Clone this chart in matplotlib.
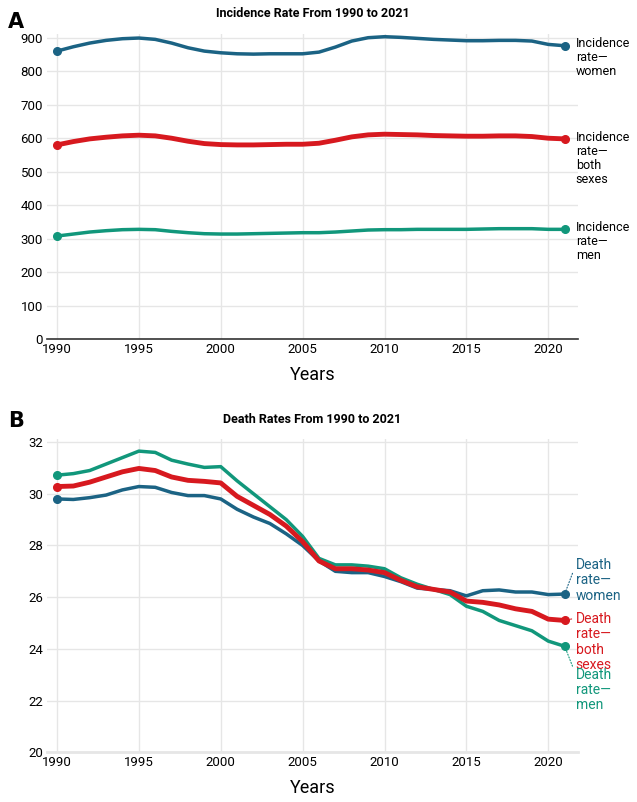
import matplotlib.pyplot as plt

years = list(range(1990, 2022))

inc_women = [860, 873, 884, 892, 897, 899, 895, 884, 870, 860, 855, 852, 851, 852, 852, 852,
             857, 872, 890, 900, 903, 901, 898, 895, 893, 891, 891, 892, 892, 890, 880, 876]
inc_both = [580, 590, 598, 603, 607, 609, 607, 600, 591, 584, 581, 580, 580, 581, 582, 582,
            585, 594, 604, 610, 612, 611, 610, 608, 607, 606, 606, 607, 607, 605, 600, 598]
inc_men = [308, 314, 320, 324, 327, 328, 327, 322, 318, 315, 314, 314, 315, 316, 317, 318,
           318, 320, 323, 326, 327, 327, 328, 328, 328, 328, 329, 330, 330, 330, 328, 328]

death_women = [29.8, 29.78, 29.85, 29.95, 30.15, 30.28, 30.25, 30.05, 29.93, 29.93, 29.8, 29.4,
               29.1, 28.85, 28.45, 28.0, 27.4, 27.0, 26.95, 26.95, 26.8, 26.6, 26.35, 26.3,
               26.25, 26.05, 26.25, 26.28, 26.2, 26.2, 26.1, 26.12]
death_both = [30.28, 30.3, 30.45, 30.65, 30.85, 30.98, 30.9, 30.65, 30.52, 30.48, 30.42, 29.9,
              29.55, 29.2, 28.75, 28.15, 27.4, 27.1, 27.1, 27.05, 26.95, 26.65, 26.4, 26.3,
              26.2, 25.85, 25.8, 25.7, 25.55, 25.45, 25.15, 25.1]
death_men = [30.72, 30.78, 30.9, 31.15, 31.4, 31.65, 31.6, 31.3, 31.15, 31.02, 31.05, 30.5,
             30.0, 29.5, 29.0, 28.35, 27.5, 27.25, 27.25, 27.2, 27.1, 26.75, 26.5, 26.3,
             26.1, 25.65, 25.45, 25.1, 24.9, 24.7, 24.3, 24.1]

xticks = [1990, 1995, 2000, 2005, 2010, 2015, 2020]

c_women = '#1b6384'
c_both = '#d7191f'
c_men = '#11977b'
fnt = ['Roboto', 'DejaVu Sans']

fig = plt.figure(figsize=(6.37, 8.02), dpi=100)
axA = fig.add_axes([0.074, 0.577, 0.833, 0.381])
axB = fig.add_axes([0.074, 0.062, 0.833, 0.39])

def style(ax):
    ax.set_xlim(1989.4, 2021.8)
    ax.set_xticks(xticks)
    ax.grid(True, color='#e6e6e6', linewidth=1)
    ax.set_axisbelow(True)
    for s in ['top', 'right', 'left']:
        ax.spines[s].set_visible(False)
    ax.tick_params(length=0, labelsize=9.5, pad=3)
    for lab in ax.get_xticklabels() + ax.get_yticklabels():
        lab.set_family(fnt)
    ax.set_xlabel('Years', family=fnt, fontsize=13, labelpad=7)

# A
axA.set_ylim(0, 912)
axA.set_yticks(range(0, 901, 100))
for vals, c, lw in [(inc_women, c_women, 2.5), (inc_both, c_both, 3.5), (inc_men, c_men, 2.5)]:
    axA.plot(years, vals, color=c, lw=lw, solid_capstyle='round', solid_joinstyle='round')
    axA.plot([years[0], years[-1]], [vals[0], vals[-1]], 'o', color=c, ms=5.5)
style(axA)
axA.spines['bottom'].set_color('#333333')
axA.spines['bottom'].set_linewidth(1.2)
axA.set_title('Incidence Rate From 1990 to 2021', fontsize=9, fontweight='bold',
              family=fnt, pad=12)
for vals, txt in [(inc_women, 'Incidence\nrate—\nwomen'), (inc_both, 'Incidence\nrate—\nboth\nsexes'),
                  (inc_men, 'Incidence\nrate—\nmen')]:
    axA.annotate(txt, (years[-1], vals[-1]), xytext=(8, 6), textcoords='offset points',
                 ha='left', va='top', fontsize=9, family=fnt, linespacing=1.1,
                 annotation_clip=False)

# B
axB.set_ylim(20, 32.1)
axB.set_yticks(range(20, 33, 2))
for vals, c, lw in [(death_women, c_women, 2.5), (death_men, c_men, 2.5), (death_both, c_both, 3.5)]:
    axB.plot(years, vals, color=c, lw=lw, solid_capstyle='round', solid_joinstyle='round')
    axB.plot([years[-1]], [vals[-1]], 'o', color=c, ms=5.5)
    axB.plot([years[0]], [vals[0]], 'o', color=c, ms=5.5)
style(axB)
axB.spines['bottom'].set_color('#e6e6e6')
axB.spines['bottom'].set_linewidth(2)
axB.set_title('Death Rates From 1990 to 2021', fontsize=9, fontweight='bold',
              family=fnt, pad=12)
for vals, c, txt, dy, rp in [(death_women, c_women, 'Death\nrate—\nwomen', 26, (0, 0.85)),
                             (death_both, c_both, 'Death\nrate—\nboth\nsexes', 6, (0, 0.9)),
                             (death_men, c_men, 'Death\nrate—\nmen', -15.5, (0, 0.85))]:
    axB.annotate(txt, (years[-1], vals[-1]), xytext=(8, dy), textcoords='offset points',
                 ha='left', va='top', fontsize=10, family=fnt,
                 color=c, linespacing=1.12, annotation_clip=False,
                 arrowprops=dict(arrowstyle='-', color=c, lw=0.8, linestyle=':',
                                 relpos=rp, shrinkA=1, shrinkB=3))

fig.text(0.012, 0.985, 'A', fontsize=15, fontweight='bold', va='top')
fig.text(0.012, 0.487, 'B', fontsize=15, fontweight='bold', va='top')

fig.savefig('out.png', dpi=100)
